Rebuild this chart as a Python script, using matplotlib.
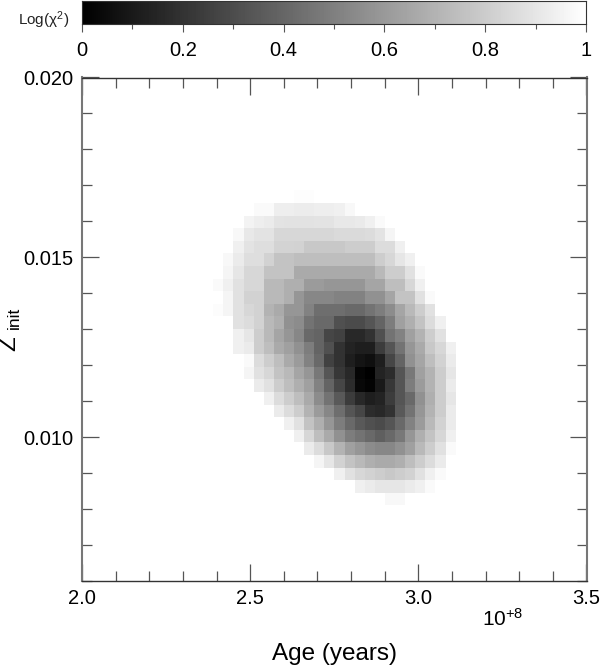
import numpy as np
import matplotlib
matplotlib.use("Agg")
import matplotlib.pyplot as plt

plt.rcParams['font.family'] = ['Liberation Sans', 'DejaVu Sans']
plt.rcParams['mathtext.fontset'] = 'custom'
plt.rcParams['mathtext.rm'] = 'Liberation Sans'

W, H = 600, 667

# grey level (0-255) of each cell; 24 columns, starting at cell column 13
col_start = 13
row_start = 9
n_cols, n_rows = 50, 40
grey_rows = [
[255,255,255,255,255,255,255,255,253,253,255,255,255,255,255,255,255,255,255,255,255,255,255,255],
[255,255,255,255,250,250,238,238,236,236,238,238,240,248,255,255,255,255,255,255,255,255,255,255],
[255,255,255,243,238,235,228,226,226,226,228,228,232,232,234,240,250,255,255,255,255,255,255,255],
[255,255,248,232,228,228,215,215,215,215,215,215,218,218,218,220,228,245,255,255,255,255,255,255],
[255,255,240,228,222,222,212,212,210,200,200,200,200,205,205,205,220,220,240,255,255,255,255,255],
[255,248,235,222,222,210,195,195,190,190,190,190,190,190,190,190,205,215,230,240,255,255,255,255],
[255,245,230,215,215,195,195,195,170,170,170,170,170,170,170,170,185,205,205,225,250,255,255,255],
[250,240,225,215,215,185,185,175,175,155,155,150,150,150,150,165,165,190,190,215,240,255,255,255],
[255,245,225,210,210,185,185,175,150,135,135,135,130,130,130,145,145,165,195,195,225,250,255,255],
[252,245,225,215,210,180,170,150,150,130,110,110,110,105,105,115,125,140,165,185,205,225,255,255],
[255,255,225,220,210,185,175,145,140,115,105,105,80,75,75,85,100,125,160,175,195,220,240,255],
[255,255,240,230,205,185,165,150,135,105,100,70,65,40,40,50,80,115,130,160,180,205,225,255],
[255,255,240,235,205,190,170,160,145,125,100,80,50,35,30,30,60,85,115,150,170,200,215,240],
[255,255,255,250,220,205,190,170,155,130,105,65,50,30,20,15,30,70,100,145,165,190,210,235],
[255,255,255,245,225,215,195,185,165,150,120,85,55,40,5,0,35,45,85,120,160,180,205,230],
[255,255,255,255,235,225,205,190,175,160,130,100,70,45,8,3,25,55,85,125,155,180,205,235],
[255,255,255,255,255,240,220,205,190,170,140,115,90,60,40,30,35,60,85,105,145,175,205,230],
[255,255,255,255,255,255,235,220,205,180,155,135,110,85,70,45,40,50,90,115,150,180,205,235],
[255,255,255,255,255,255,255,240,225,195,175,150,125,105,90,80,75,85,105,130,155,185,210,235],
[255,255,255,255,255,255,255,255,240,215,190,170,145,125,115,105,95,105,120,150,175,195,215,240],
[255,255,255,255,255,255,255,255,255,235,220,200,180,160,150,140,135,135,145,160,185,205,225,250],
[255,255,255,255,255,255,255,255,255,255,245,230,210,195,185,175,170,170,175,190,205,220,235,255],
[255,255,255,255,255,255,255,255,255,255,255,255,240,225,215,210,205,200,205,210,225,240,250,255],
[255,255,255,255,255,255,255,255,255,255,255,255,255,255,240,235,230,230,230,235,240,250,255,255],
[255,255,255,255,255,255,255,255,255,255,255,255,255,255,255,255,255,248,248,255,255,255,255,255],
]

age_range = (2.0, 3.5)
z_range = (0.006, 0.020)
x_ticks = [2.0, 2.5, 3.0, 3.5]
y_ticks = [0.010, 0.015, 0.020]
bar_ticks = [0, 0.2, 0.4, 0.6, 0.8, 1]
bar_labels = ['0', '0.2', '0.4', '0.6', '0.8', '1']

grid = np.full((n_rows, n_cols), 255.0)
grid[row_start:row_start + len(grey_rows), col_start:col_start + 24] = np.array(grey_rows, dtype=float)
values = grid / 255.0

fig = plt.figure(figsize=(W / 100, H / 100), dpi=100)

def box(l, t, r, b):
    return [l / W, 1 - b / H, (r - l) / W, (b - t) / H]

FS = 14.5
DARK = '#333333'
TICK = '#555555'
SIDE = '#777777'

# colour bar
cax = fig.add_axes(box(82, 0.5, 586, 24))
cax.imshow(np.linspace(0, 1, 256)[None, :], aspect='auto', cmap='gray', vmin=0, vmax=1,
           extent=(0, 1, 0, 1), interpolation='nearest')
cax.set_yticks([])
cax.set_xticks(bar_ticks)
cax.set_xticklabels(bar_labels, fontsize=FS)
cax.set_xticks(np.arange(0.1, 1, 0.2), minor=True)
cax.tick_params(axis='x', which='major', direction='out', length=5.5, width=0.8, color=TICK, pad=7)
cax.tick_params(axis='x', which='minor', direction='out', length=3.5, width=0.8, color=TICK)
for s in cax.spines.values():
    s.set_linewidth(0.8)
    s.set_color(DARK)
fig.text(43.5 / W, 1 - 20 / H, r'Log($\mathregular{\chi^2}$)', fontsize=11, ha='center', va='center', color='#222222')

# main map
ax = fig.add_axes(box(82, 77.5, 586.5, 581))
ax.imshow(values, aspect='auto', cmap='gray', vmin=0, vmax=1, interpolation='nearest',
          extent=(age_range[0], age_range[1], z_range[0], z_range[1]))
ax.set_xlim(*age_range)
ax.set_ylim(*z_range)
ax.set_xticks(x_ticks)
ax.set_xticklabels([f'{t:.1f}' for t in x_ticks], fontsize=FS)
ax.set_yticks(y_ticks)
ax.set_yticklabels([f'{t:.3f}' for t in y_ticks], fontsize=FS)
ax.set_xticks(np.arange(2.0, 3.5001, 0.1), minor=True)
ax.set_yticks(np.arange(0.006, 0.0201, 0.001), minor=True)
ax.tick_params(which='major', direction='in', length=12, width=0.9, color=TICK, top=True, right=True, pad=6)
ax.tick_params(which='minor', direction='in', length=7.5, width=0.9, color=TICK, top=True, right=True)
for name, s in ax.spines.items():
    if name in ('left', 'right'):
        s.set_linewidth(1.5)
        s.set_color(SIDE)
    else:
        s.set_linewidth(1.0)
        s.set_color(DARK)

fig.text(502.5 / W, 1 - 619 / H, r'$\mathregular{10^{+8}}$', fontsize=15, ha='center', va='center')
fig.text(335 / W, 1 - 654 / H, 'Age (years)', fontsize=17.5, ha='center', va='center')
fig.text(9.5 / W, 1 - 343.5 / H, 'Z', fontsize=17.5, rotation=90, ha='center', va='center')
fig.text(14.5 / W, 1 - 317.5 / H, 'init', fontsize=12.5, rotation=90, ha='center', va='center')

fig.savefig('out.png', dpi=100)
